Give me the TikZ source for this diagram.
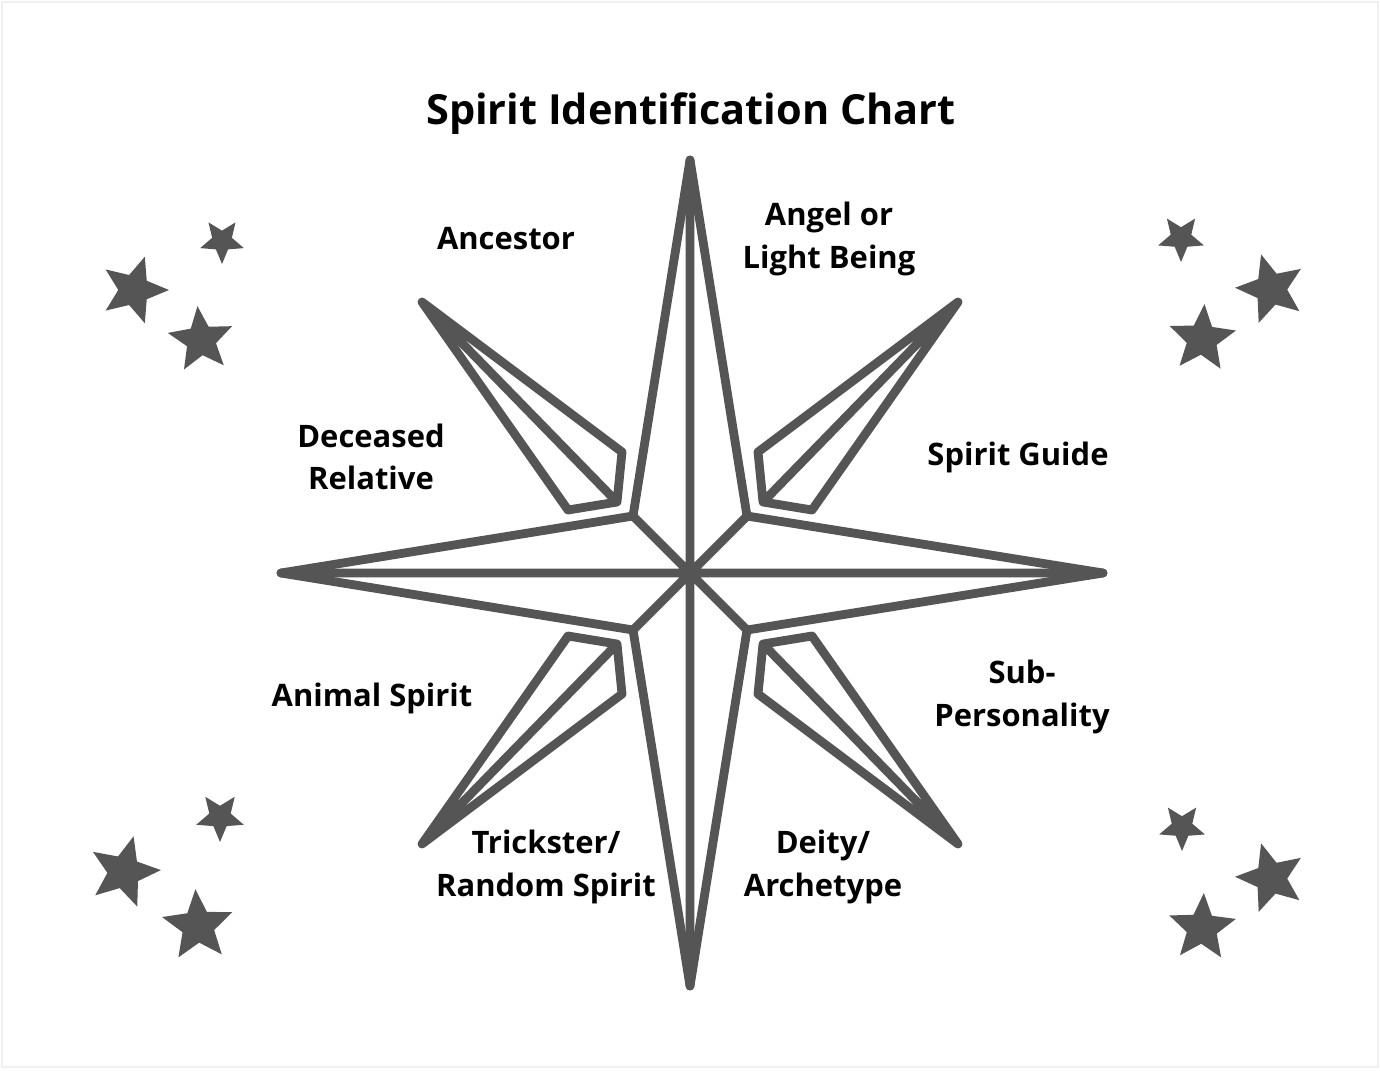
\documentclass[tikz,border=0pt]{standalone}
\usepackage{fontspec}
\setmainfont{Open Sans}
\definecolor{ink}{RGB}{85,85,85}

\begin{document}
\begin{tikzpicture}[x=0.01cm,y=-0.01cm,
    arm/.style={draw=ink,line width=0.088cm,line join=round,line cap=round},
    lbl/.style={font=\bfseries\fontsize{8.8}{12}\selectfont,align=center,inner sep=0pt},
    sparkle/.style={fill=ink}]
  \useasboundingbox (0,0) rectangle (1380,1070);
  \draw[gray!12,line width=0.02cm] (2,2) rectangle (1378,1067);

  \coordinate (C) at (690,573);
  \coordinate (T) at (690,160);
  \coordinate (B) at (690,986);
  \coordinate (L) at (281,573);
  \coordinate (R) at (1103,573);
  \coordinate (UL) at (633,516);
  \coordinate (UR) at (747,516);
  \coordinate (LL) at (633,630);
  \coordinate (LR) at (747,630);

  \draw[arm] (T) -- (UR) -- (R) -- (LR) -- (B) -- (LL) -- (L) -- (UL) -- cycle;
  \draw[arm] (T) -- (B) (L) -- (R) (UL) -- (LR) (UR) -- (LL);
  \foreach \sx/\sy in {1/1,-1/1,1/-1,-1/-1}
    \draw[arm,shift={(C)},xscale=\sx,yscale=\sy]
      (-268,-271) -- (-68,-121) -- (-73,-71) -- (-122,-63) -- cycle
      (-268,-271) -- (-73,-71);

  \foreach \cx/\cy/\rr/\rot in {222/241/23/180, 134/290/35/-18, 201/340/34/6,
      1181/238/24/180, 1271/289/36/16, 1202/339/35/-4,
      1182/827/24/180, 1271/878/36/16, 1202/928/35/-3,
      220/817/25/180, 124/872/37/-15, 198/926/37/4}
    \fill[sparkle] (\cx,\cy) +({-(90+\rot)}:\rr)
      \foreach \k in {1,...,9} { -- +({-(90+\rot+36*\k)}:{\rr*(1-0.55*isodd(\k))}) } -- cycle;

  \node[lbl,font=\bfseries\fontsize{11.8}{14}\selectfont] (title) at (691,114) {Spirit Identification Chart};
  \node[lbl] (ancestor) at (506,239) {Ancestor};
  \node[lbl] (angel) at (829,239) {Angel or\\Light Being};
  \node[lbl] (deceased) at (371,457) {Deceased\\Relative};
  \node[lbl] (guide) at (1018,457) {Spirit Guide};
  \node[lbl] (animal) at (372,698) {Animal Spirit};
  \node[lbl] (subpers) at (1022,697) {Sub-\\Personality};
  \node[lbl] (trickster) at (546,867) {Trickster/\\Random Spirit};
  \node[lbl] (deity) at (823,867) {Deity/\\Archetype};
\end{tikzpicture}
\end{document}
